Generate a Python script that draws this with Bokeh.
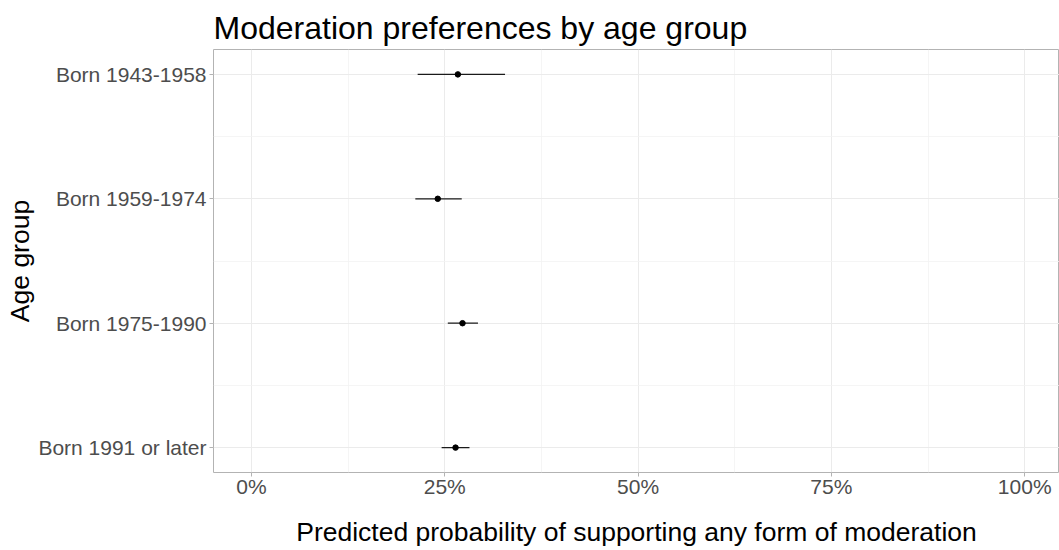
from bokeh.plotting import figure
from bokeh.models import Range1d, FixedTicker, NumeralTickFormatter, ColumnDataSource
from bokeh.embed import file_html
from bokeh.resources import INLINE

# ---- data ----
groups = ["Born 1943-1958", "Born 1959-1974", "Born 1975-1990", "Born 1991 or later"]
estimate = [0.267, 0.241, 0.273, 0.264]
lower = [0.215, 0.212, 0.254, 0.246]
upper = [0.328, 0.272, 0.293, 0.282]
x_ticks = [0.0, 0.25, 0.5, 0.75, 1.0]
x_minor = [0.125, 0.375, 0.625, 0.875]

# categories are placed top-to-bottom in the order given
ypos = [len(groups) - i for i in range(len(groups))]
y_minor = [y + 0.5 for y in ypos[1:]]
source = ColumnDataSource(dict(group=groups, y=ypos, est=estimate, lo=lower, hi=upper))

FONT = "Liberation Sans"

p = figure(
    width=1059, height=550,
    output_backend="svg", toolbar_location=None,
    x_range=Range1d(-0.049, 1.045),
    y_range=Range1d(0.8, len(groups) + 0.2),
    min_border_left=213, min_border_right=0, min_border_top=49, min_border_bottom=78,
)

p.segment(x0="lo", x1="hi", y0="y", y1="y", source=source, line_color="#1a1a1a", line_width=1.3)
p.scatter(x="est", y="y", source=source, size=5.5, color="black")

# title
p.title.text = "Moderation preferences by age group"
p.title.text_font = FONT
p.title.text_font_size = "32px"
p.title.text_font_style = "normal"
p.title.text_color = "black"
p.title.align = "left"
p.title.standoff = 7
p.title.offset = 0

# outline
p.outline_line_color = "#B3B3B3"
p.outline_line_width = 1
p.background_fill_color = "white"
p.border_fill_color = "white"

# x axis
xa = p.xaxis[0]
xa.ticker = FixedTicker(ticks=x_ticks, minor_ticks=x_minor)
xa.formatter = NumeralTickFormatter(format="0%")
xa.axis_label = "Predicted probability of supporting any form of moderation"
# y axis
ya = p.yaxis[0]
ya.ticker = FixedTicker(ticks=ypos, minor_ticks=y_minor)
ya.major_label_overrides = {y: g for y, g in zip(ypos, groups)}
ya.axis_label = "Age group"

for ax in (xa, ya):
    ax.axis_line_color = None
    ax.major_tick_line_color = "#B3B3B3"
    ax.major_tick_out = 4
    ax.major_tick_in = 0
    ax.minor_tick_line_color = None
    ax.major_label_text_font = FONT
    ax.major_label_text_font_size = "21px"
    ax.major_label_text_color = "#4D4D4D"
    ax.axis_label_text_font = FONT
    ax.axis_label_text_font_size = "26.5px"
    ax.axis_label_text_font_style = "normal"
    ax.axis_label_text_color = "black"

xa.major_label_standoff = -2
xa.axis_label_standoff = 16
ya.major_label_standoff = 3
ya.axis_label_standoff = 0

# grid
for g in (p.xgrid[0], p.ygrid[0]):
    g.grid_line_color = "#EBEBEB"
    g.grid_line_width = 1
    g.minor_grid_line_color = "#F2F2F2"
    g.minor_grid_line_width = 0.8

open("out.html", "w").write(file_html(p, INLINE))
